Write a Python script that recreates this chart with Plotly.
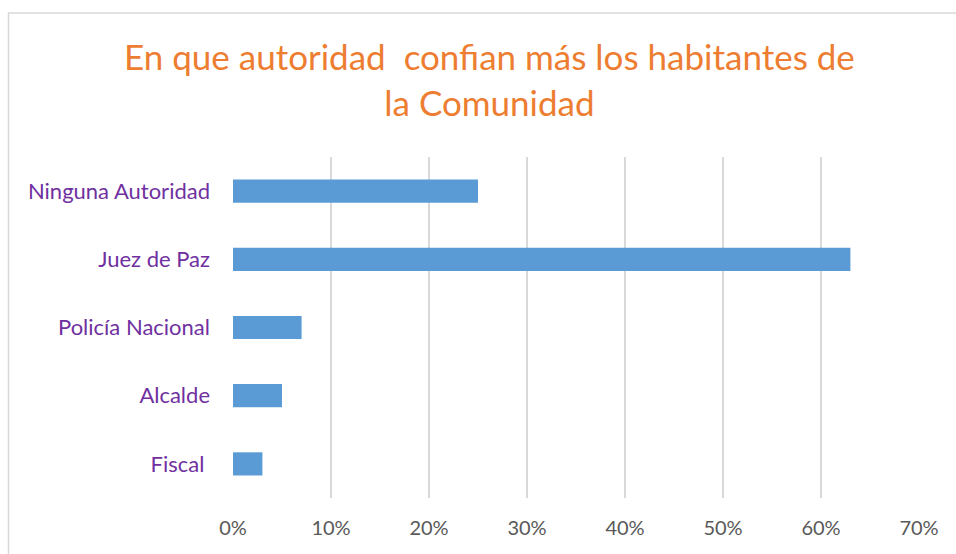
import plotly.graph_objects as go

categories = ["Fiscal ", "Alcalde", "Policía Nacional", "Juez de Paz", "Ninguna Autoridad"]
values = [0.03, 0.05, 0.07, 0.63, 0.25]
x_ticks = [0, 0.1, 0.2, 0.3, 0.4, 0.5, 0.6, 0.7]
x_tick_labels = ["0%", "10%", "20%", "30%", "40%", "50%", "60%", "70%"]
title_text = "En que autoridad  confian más los habitantes de<br>la Comunidad"

W, H = 956, 554
L = 233
T = 157
R = W - 919
B = H - 498
pw, ph = W - L - R, H - T - B

def px_to_paper_x(px):
    return (px - L) / pw

def px_to_paper_y(py):
    return (H - B - py) / ph

fig = go.Figure(go.Bar(
    x=values, y=categories, orientation="h",
    marker=dict(color="#5B9BD5", line=dict(width=0)),
    width=0.34,
))

fig.update_layout(
    width=W, height=H,
    margin=dict(l=L, r=R, t=T, b=B),
    paper_bgcolor="white", plot_bgcolor="white",
    showlegend=False,
    font=dict(family="Lato, sans-serif"),
    xaxis=dict(
        range=[0, 0.7], tickvals=x_ticks, ticktext=x_tick_labels,
        showgrid=True, gridcolor="#D9D9D9", gridwidth=1.5,
        zeroline=False, showline=False, ticks="",
        tickfont=dict(size=20, color="#595959"),
        ticklabelstandoff=16,
    ),
    yaxis=dict(
        showgrid=False, zeroline=False, showline=False, ticks="",
        tickfont=dict(size=22, color="#7030A0"),
        ticklabelstandoff=22,
        range=[-0.5, 4.5],
    ),
    shapes=[dict(
        type="rect", xref="paper", yref="paper",
        x0=px_to_paper_x(8.5), x1=px_to_paper_x(1000),
        y0=px_to_paper_y(620), y1=px_to_paper_y(13),
        line=dict(color="#D9D9D9", width=1.5), fillcolor="rgba(0,0,0,0)",
        layer="below",
    )],
    annotations=[dict(
        text=title_text, xref="paper", yref="paper",
        x=px_to_paper_x(489), y=px_to_paper_y(79),
        xanchor="center", yanchor="middle", showarrow=False,
        font=dict(size=35, color="#ED7D31", family="Lato, sans-serif"),
        align="center",
    )],
)

fig.write_html(
    "out.html",
    config={"displayModeBar": False},
    post_script="document.body.style.margin='0';document.body.style.overflow='hidden';",
)
